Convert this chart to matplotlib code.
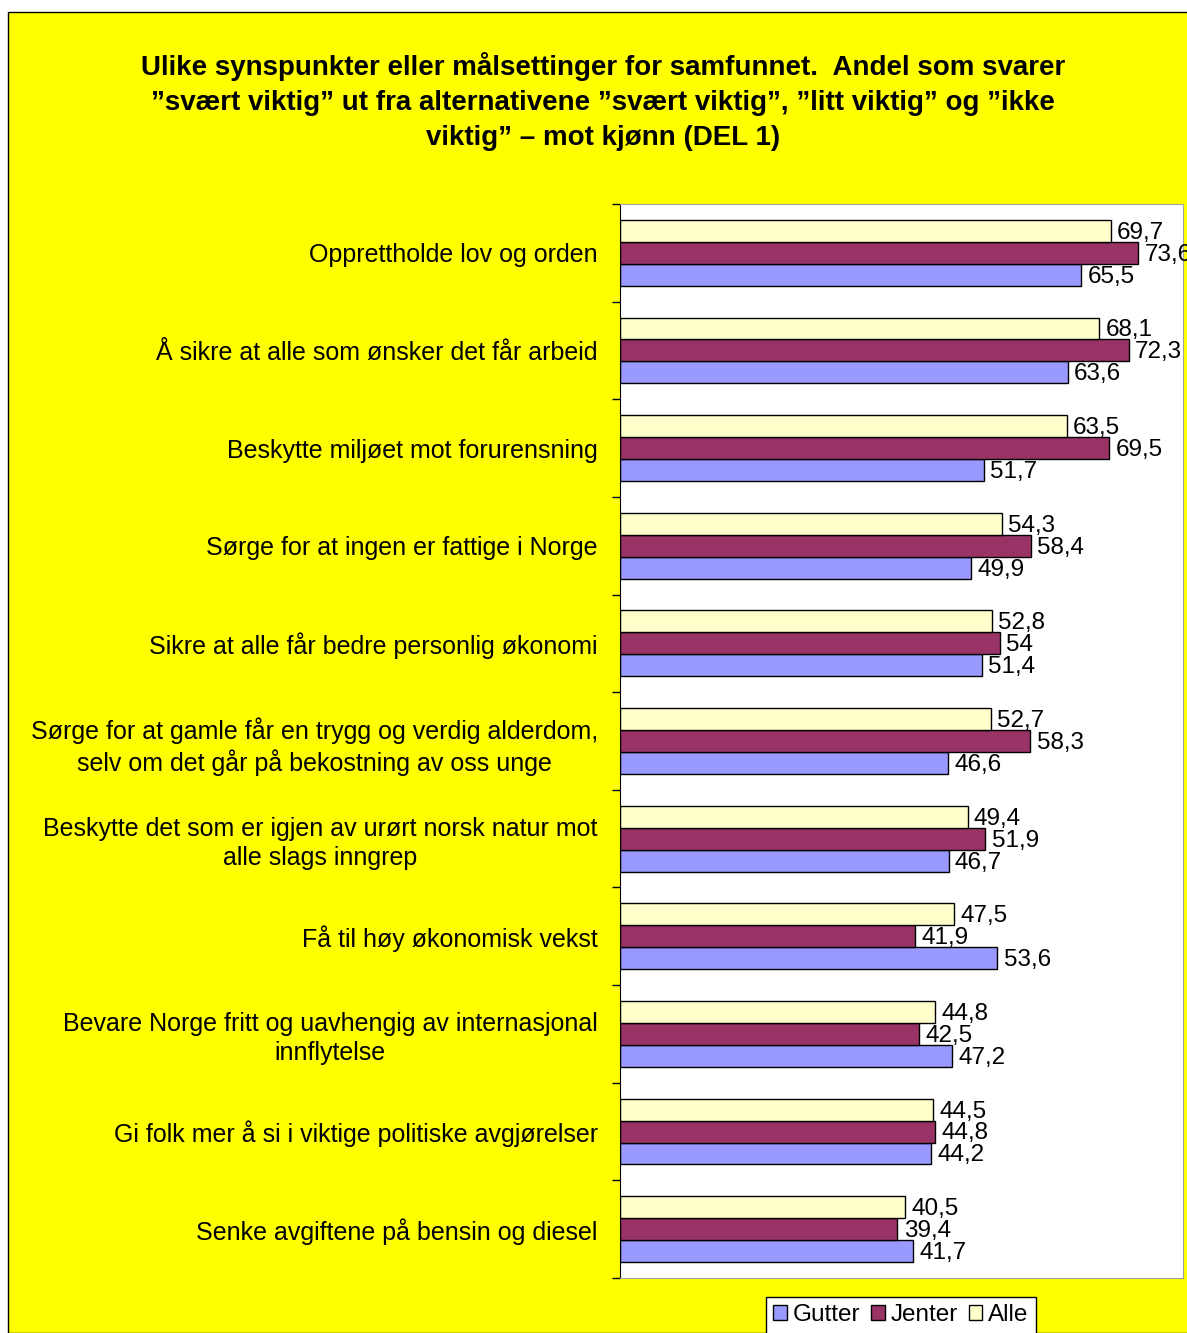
import numpy as np
import matplotlib
matplotlib.use('Agg')
from matplotlib import pyplot as plt
from matplotlib.patches import Rectangle

plt.rcParams['font.family'] = ['Liberation Sans', 'DejaVu Sans']

categories = ['Opprettholde lov og orden',
              'Å sikre at alle som ønsker det får arbeid',
              'Beskytte miljøet mot forurensning',
              'Sørge for at ingen er fattige i Norge',
              'Sikre at alle får bedre personlig økonomi',
              'Sørge for at gamle får en trygg og verdig alderdom,\nselv om det går på bekostning av oss unge',
              'Beskytte det som er igjen av urørt norsk natur mot\nalle slags inngrep',
              'Få til høy økonomisk vekst',
              'Bevare Norge fritt og uavhengig av internasjonal\ninnflytelse',
              'Gi folk mer å si i viktige politiske avgjørelser',
              'Senke avgiftene på bensin og diesel']
gutter = [65.5, 63.6, 51.7, 49.9, 51.4, 46.6, 46.7, 53.6, 47.2, 44.2, 41.7]
jenter = [73.6, 72.3, 69.5, 58.4, 54, 58.3, 51.9, 41.9, 42.5, 44.8, 39.4]
alle = [69.7, 68.1, 63.5, 54.3, 52.8, 52.7, 49.4, 47.5, 44.8, 44.5, 40.5]

series = [('Gutter', gutter, '#9999FF'),
          ('Jenter', jenter, '#993366'),
          ('Alle', alle, '#FFFFCC')]

def fmt(v):
    s = ('%.1f' % v).rstrip('0').rstrip('.')
    return s.replace('.', ',')

fig = plt.figure(figsize=(11.87, 13.33), dpi=100)
fig.patch.set_facecolor('white')
# yellow chart area with border
bg = Rectangle((8 / 1187, 0), 1.0, 1 - 12 / 1333, transform=fig.transFigure,
               facecolor='#FFFF00', edgecolor='black', linewidth=1, zorder=-10)
fig.patches.append(bg)

ax = fig.add_axes([620 / 1187, 1 - 1278 / 1333, (1183 - 620) / 1187, (1278 - 204) / 1333])
ax.set_facecolor('white')
ax.set_zorder(1)

n = len(categories)
y = np.arange(n)[::-1].astype(float)
h = 0.225
offsets = [-h, 0, h]
bars = []
fs = 18
for (name, vals, col), off in zip(series, offsets):
    b = ax.barh(y + off, vals, height=h, color=col, edgecolor='black', linewidth=1, label=name)
    bars.append(b)
    for yy, v in zip(y + off, vals):
        ax.text(v + 0.9, yy - 0.02, fmt(v), va='center', ha='left', fontsize=17.5, clip_on=False)

ax.set_xlim(0, 80)
ax.set_ylim(-0.5, n - 0.5)
ax.set_xticks([])
ax.set_yticks(y)
ax.set_yticklabels(categories, fontsize=fs)
for t in ax.get_yticklabels():
    t.set_multialignment('center')
    t.set_linespacing(1.25)
ax.tick_params(axis='y', which='major', length=0, pad=16)
ax.set_yticks(np.arange(n + 1) - 0.5, minor=True)
ax.tick_params(axis='y', which='minor', length=6, width=1, direction='out')
for s in ['top', 'right', 'bottom']:
    ax.spines[s].set_color('#A0A0A0')
ax.spines['left'].set_color('black')

fig.text(0.508, 1 - 52 / 1333,
         'Ulike synspunkter eller målsettinger for samfunnet.  Andel som svarer\n'
         '”svært viktig” ut fra alternativene ”svært viktig”, ”litt viktig” og ”ikke\n'
         'viktig” – mot kjønn (DEL 1)',
         ha='center', va='top', fontsize=20, fontweight='bold', linespacing=1.45)

leg = fig.legend(handles=bars, loc='upper left', bbox_to_anchor=(766 / 1187, 1 - 1297 / 1333),
                 ncol=3, fontsize=17.5, frameon=True, fancybox=False, handlelength=0.55,
                 handleheight=0.55, handletextpad=0.25, columnspacing=0.45, borderpad=0.3,
                 borderaxespad=0)
leg.get_frame().set_edgecolor('black')
leg.get_frame().set_facecolor('white')
leg.get_frame().set_alpha(1)
leg.get_frame().set_linewidth(1)

fig.savefig('out.png', dpi=100, facecolor=fig.get_facecolor())
